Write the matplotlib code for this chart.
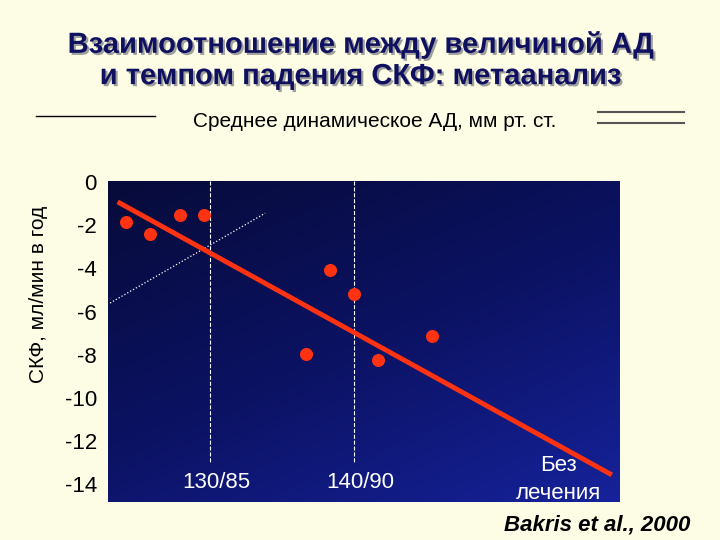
import numpy as np
import matplotlib.pyplot as plt
import matplotlib.patheffects as pe

plt.rcParams['font.family'] = ['Liberation Sans', 'DejaVu Sans']

# data (x in arbitrary units 0..100 along the BP axis)
pts_x = [3.5, 8.2, 14.1, 18.75, 43.4, 48.0, 38.7, 52.7, 63.3]
pts_y = [-1.85, -2.4, -1.53, -1.53, -4.07, -5.19, -7.96, -8.24, -7.13]
fit_x = [2.3, 98.0]
fit_y = [-0.97, -13.5]
aux_x = [0.4, 30.7]
aux_y = [-5.6, -1.44]
bp_x = [19.9, 48.0]
bp_labels = ['130/85', '140/90']
yticks = [0, -2, -4, -6, -8, -10, -12, -14]

fig = plt.figure(figsize=(7.2, 5.4), dpi=100)
fig.patch.set_facecolor('#fdfde6')
ax = fig.add_axes([0.15, 0.0704, 0.711, 0.5944])
ax.set_xlim(0, 100)
ax.set_ylim(-14.81, 0.05)

# gradient background
gx, gy = np.meshgrid(np.linspace(0, 1, 200), np.linspace(0, 1, 200))
g = 0.4 * gx + 0.6 * gy
ax.imshow(g, extent=[0, 100, -14.81, 0.05], aspect='auto', origin='upper',
          cmap=plt.matplotlib.colors.LinearSegmentedColormap.from_list(
              'bg', ['#070b3a', '#0b1262', '#16229a']), zorder=0)

for xv in bp_x:
    ax.plot([xv, xv], [0.05, -13.0], ls='--', color='white', lw=0.8, zorder=1)
ax.plot(aux_x, aux_y, ls=':', color='white', lw=0.9, zorder=1)
ax.plot(fit_x, fit_y, color='#ff3311', lw=3.5, zorder=2)
ax.scatter(pts_x, pts_y, s=70, color='#ff3311', zorder=3)

for xv, lab in zip(bp_x, bp_labels):
    ax.text(xv + 1.2, -13.9, lab, color='white', fontsize=16, ha='center', va='center')
ax.text(88, -13.1, 'Без', color='white', fontsize=16, ha='center', va='center')
ax.text(88, -14.4, 'лечения', color='white', fontsize=16, ha='center', va='center')

ax.set_yticks(yticks)
ax.set_yticklabels([str(v) for v in yticks], fontsize=16)
ax.set_xticks([])
ax.tick_params(axis='y', length=0, pad=8)
for s in ax.spines.values():
    s.set_visible(False)

fig.text(0.5, 0.888, 'Взаимоотношение между величиной АД\nи темпом падения СКФ: метаанализ',
         ha='center', va='center', fontsize=21, fontweight='bold', color='#101060',
         linespacing=1.15,
         path_effects=[pe.withSimplePatchShadow(offset=(1.5, -1.5), shadow_rgbFace='#888888', alpha=0.8)])
fig.text(0.52, 0.775, 'Среднее динамическое АД, мм рт. ст.', ha='center', va='center', fontsize=15)
fig.text(0.053, 0.455, 'СКФ, мл/мин в год', rotation=90, ha='center', va='center', fontsize=15)
fig.text(0.83, 0.028, 'Bakris et al., 2000', ha='center', va='center', fontsize=16,
         fontweight='bold', style='italic')

# decorative rules
fig.add_artist(plt.Line2D([0.05, 0.215], [0.785, 0.785], color='black', lw=1))
fig.add_artist(plt.Line2D([0.83, 0.95], [0.792, 0.792], color='#555555', lw=1.5))
fig.add_artist(plt.Line2D([0.83, 0.95], [0.772, 0.772], color='#555555', lw=1.5))

fig.savefig('out.png', dpi=100, facecolor=fig.get_facecolor())
